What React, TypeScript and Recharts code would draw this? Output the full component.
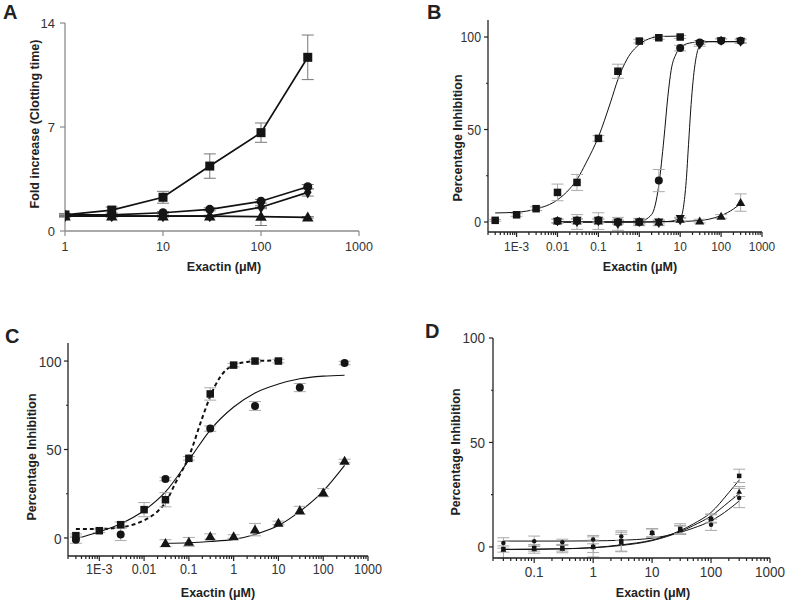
import React from "react";
import { ComposedChart, Scatter, Line, XAxis, YAxis, ErrorBar } from "recharts";

const W = 787;
const H = 601;
const FONT = "'Liberation Sans', Arial, Helvetica, sans-serif";

// ---------- Panel A: fold increase in clotting time
const aDose = [1, 3, 10, 30, 100, 300];
const aSquare = [1.08, 1.41, 2.27, 4.37, 6.62, 11.69];
const aSquareErr = [0.1, 0.2, 0.4, 0.82, 0.65, 1.5];
const aCircle = [1.08, 1.08, 1.23, 1.46, 2.0, 2.98];
const aCircleErr = [0.05, 0.05, 0.08, 0.1, 0.12, 0.15];
const aDiamond = [1.0, 1.0, 1.0, 1.0, 1.6, 2.6];
const aDiamondErr = [0.05, 0.05, 0.05, 0.05, 0.1, 0.25];
const aTriangle = [1.0, 1.0, 1.0, 1.0, 0.97, 0.92];
const aTriangleErr = [0.05, 0.05, 0.05, 0.05, 0.6, 0.05];

// ---------- Panel B
const bSqDose = [0.0003, 0.001, 0.003, 0.01, 0.03, 0.1, 0.3, 1, 3, 10];
const bSquare = [0.9, 3.9, 7.2, 16, 21.4, 45.2, 81.5, 97.8, 99.6, 100];
const bSquareErr = [0.5, 0.8, 1, 4.5, 4.3, 1.5, 3.8, 1, 0.8, 0.8];
const bDose = [0.01, 0.03, 0.1, 0.3, 1, 3, 10, 30, 100, 300];
const bCircle = [0.5, 0.8, 1, 0, 0, 22.4, 94, 97, 98, 98];
const bCircleErr = [1, 1, 1, 1, 1, 6, 1.5, 1, 1, 1];
const bDiamond = [0.5, 0, 0.5, -1, 0, -0.5, 1, 96, 98, 97.5];
const bDiamondErr = [1, 4, 4.5, 3.5, 2, 1.5, 1, 1, 1, 1];
const bInvTri = [0.5, 1, 1, 0, 0, 0, 2, 96.5, 98, 97.8];
const bTriangle = [0.5, 0.5, 0.5, 0, 0, 0, 1.5, 0.5, 3, 10.5];
const bTriangleErr = [1, 1, 1, 1, 1, 1, 1, 1, 1, 4.7];

const bSqFitX = [0.0003, 0.001, 0.003, 0.01, 0.02, 0.03, 0.05, 0.1, 0.2, 0.3, 0.5, 1, 2, 3, 10];
const bSqFit = [4.9, 5.3, 7, 12, 18, 23, 32, 46, 65, 77, 88, 96, 99.5, 100.3, 100.5];
const bCircFitX = [0.01, 0.3, 1, 2, 3, 4, 5, 6, 8, 10, 20, 50, 300];
const bCircFit = [0, 0, 0.3, 4, 20, 45, 68, 82, 91, 94.5, 97, 97.5, 97.5];
const bDiaFitX = [0.01, 1, 5, 10, 12, 14, 16, 18, 20, 25, 30, 50, 300];
const bDiaFit = [0, 0, 0.3, 2, 8, 22, 42, 60, 73, 90, 95, 97.5, 97.5];
const bTriFitX = [0.01, 1, 10, 30, 50, 100, 200, 300];
const bTriFit = [0, 0, 0.3, 0.8, 1.5, 3.5, 7, 10];

// ---------- Panel C
const cSqDose = [0.0003, 0.001, 0.003, 0.01, 0.03, 0.1, 0.3, 1, 3, 10];
const cSquare = [1.3, 4.1, 7.5, 16, 21.6, 45, 81.4, 97.7, 100, 100];
const cSquareErr = [1, 1, 1.5, 4, 4, 1, 3.5, 1, 1, 1];
const cCircDose = [0.0003, 0.003, 0.03, 0.3, 3, 30, 300];
const cCircle = [-1, 2, 33.3, 61.8, 74.6, 85, 98.9];
const cCircleErr = [2, 3.5, 1, 1.5, 2.5, 2.3, 1];
const cTriDose = [0.03, 0.1, 0.3, 1, 3, 10, 30, 100, 300];
const cTriangle = [-3, -2.2, 0.8, 0.8, 4.7, 8.5, 15.6, 25.6, 43.5];
const cTriangleErr = [2, 2.5, 1.5, 1, 3.5, 1, 2.3, 2.3, 1];

const cSqFitX = [0.0003, 0.001, 0.003, 0.01, 0.02, 0.03, 0.05, 0.1, 0.2, 0.3, 0.5, 1, 2, 3, 10];
const cSqFit = [5, 5.1, 6, 10, 15, 20, 31, 46, 68, 80, 91, 97.7, 99.5, 100, 100.3];
const cCircFitX = [0.0003, 0.001, 0.003, 0.01, 0.03, 0.1, 0.3, 1, 3, 10, 30, 100, 300];
const cCircFit = [-0.5, 3.5, 8, 15.5, 26, 44, 61, 74, 82, 87, 90, 91.5, 92];
const cTriFit = [-3, -2.7, -2, -0.8, 2, 7, 15, 26.5, 41];

// ---------- Panel D
const dDose = [0.03, 0.1, 0.3, 1, 3, 10, 30, 100, 300];
const dCircle = [1.9, 2.7, 2.2, 3.5, 5, 6.7, 8.3, 10.6, 23.4];
const dCircleErr = [2.5, 2.5, 1.5, 2, 2, 2, 2, 2.7, 4.6];
const dSquare = [-1, -0.5, -0.5, 0, 2.7, 6.7, 8.6, 13.4, 34];
const dSquareErr = [1.5, 1.5, 1.5, 4.8, 5, 2, 2.5, 2, 3.2];
const dTriangle = [-1.3, -1, -0.8, 0.3, 2, 6.7, 8, 13.8, 26.5];
const dTriangleErr = [4, 2, 2, 3, 4, 2, 2, 2, 2.4];

const dFitX = [0.03, 0.1, 0.3, 1, 3, 10, 30, 50, 100, 200, 300];
const dCircFit = [2.8, 2.8, 2.8, 2.9, 3.2, 4.2, 7, 9, 12.5, 18, 22];
const dSqFit = [-1.2, -1.1, -0.9, -0.3, 1, 3.3, 7.8, 11, 16.5, 26, 32];
const dTriFit = [-1.2, -1.1, -0.9, -0.4, 0.7, 3, 7.3, 10.2, 14.8, 21.5, 25.5];

// ---------- tick labels
const aXTicks = [1, 10, 100, 1000];
const aXLabels = ["1", "10", "100", "1000"];
const aYTicks = [0, 7, 14];
const aYLabels = ["0", "7", "14"];
const wideMajor = [0.001, 0.01, 0.1, 1, 10, 100, 1000];
const wideLabels = ["1E-3", "0.01", "0.1", "1", "10", "100", "1000"];
const dMajor = [0.1, 1, 10, 100, 1000];
const dLabels = ["0.1", "1", "10", "100", "1000"];
const pctTicks = [0, 25, 50, 75, 100];
const pctMajor = [0, 50, 100];
const pctLabels = ["0", "50", "100"];

type Row = { x: number; y: number; e: number };
const zip = (xs: number[], ys: number[], es?: number[]): Row[] =>
  xs.map((x, i) => ({ x, y: ys[i], e: es ? es[i] : 0 }));

function logTicks(lo: number, hi: number) {
  const out: number[] = [];
  for (let p = Math.floor(Math.log10(lo)); p <= Math.ceil(Math.log10(hi)); p++) {
    for (let k = 1; k < 10; k++) {
      const v = Number((k * Math.pow(10, p)).toPrecision(6));
      if (v >= lo * 0.999 && v <= hi * 1.001) out.push(v);
    }
  }
  return out;
}

const findIdx = (list: number[], v: number) =>
  list.findIndex((t) => Math.abs(t - v) <= Math.abs(t) * 1e-6 + 1e-9);

type Kind = "square" | "circle" | "tri" | "inv" | "diamond";
const marker = (kind: Kind, s: number) => (p: any) => {
  const { cx, cy } = p;
  if (cx == null || cy == null) return <g />;
  const h = s / 2;
  const f = "#151515";
  if (kind === "square") return <rect x={cx - h} y={cy - h} width={s} height={s} fill={f} />;
  if (kind === "circle") return <circle cx={cx} cy={cy} r={h} fill={f} />;
  if (kind === "tri")
    return (
      <polygon
        points={`${cx},${cy - h * 1.15} ${cx - h * 1.15},${cy + h * 0.85} ${cx + h * 1.15},${cy + h * 0.85}`}
        fill={f}
      />
    );
  if (kind === "inv")
    return (
      <polygon
        points={`${cx},${cy + h * 1.15} ${cx - h * 1.15},${cy - h * 0.85} ${cx + h * 1.15},${cy - h * 0.85}`}
        fill={f}
      />
    );
  return (
    <polygon
      points={`${cx},${cy - h * 1.35} ${cx + h * 0.85},${cy} ${cx},${cy + h * 1.35} ${cx - h * 0.85},${cy}`}
      fill={f}
    />
  );
};

type Cfg = {
  x0: number; x1: number; y0: number; y1: number;
  xDomain: [number, number]; yDomain: [number, number];
  xTicks: number[]; xMajor: number[]; xLabels: string[];
  yTicks: number[]; yMajor: number[]; yLabels: string[];
  axis: string; majorLen: number; minorLen: number; yLen: number; yMinorLen: number;
  xBase: number; yGap: number; xFs: number; yFs: number; xSx: number; ySx: number; text: string;
};

function XTick(props: any) {
  const { x, y, payload, cfg } = props;
  const c: Cfg = cfg;
  const i = findIdx(c.xMajor, payload.value);
  const len = i >= 0 ? c.majorLen : c.minorLen;
  return (
    <g>
      <line x1={x} x2={x} y1={y} y2={y + len} stroke={c.axis} strokeWidth={1.2} />
      {i >= 0 && (
        <text
          transform={`translate(${x},${y + c.xBase}) scale(${c.xSx},1)`}
          textAnchor="middle"
          fontSize={c.xFs}
          fontFamily={FONT}
          fill={c.text}
        >
          {c.xLabels[i]}
        </text>
      )}
    </g>
  );
}

function YTick(props: any) {
  const { x, y, payload, cfg } = props;
  const c: Cfg = cfg;
  const i = findIdx(c.yMajor, payload.value);
  const len = i >= 0 ? c.yLen : c.yMinorLen;
  return (
    <g>
      <line x1={x} x2={x - len} y1={y} y2={y} stroke={c.axis} strokeWidth={1.2} />
      {i >= 0 && (
        <text
          transform={`translate(${x - len - c.yGap},${y}) scale(${c.ySx},1)`}
          dy="0.36em"
          textAnchor="end"
          fontSize={c.yFs}
          fontFamily={FONT}
          fill={c.text}
        >
          {c.yLabels[i]}
        </text>
      )}
    </g>
  );
}

function Panel({ cfg, children }: { cfg: Cfg; children: React.ReactNode }) {
  return (
    <div style={{ position: "absolute", left: 0, top: 0 }}>
      <ComposedChart
        width={W}
        height={H}
        margin={{ top: cfg.y0, left: cfg.x0 - 60, right: W - cfg.x1, bottom: H - cfg.y1 - 30 }}
      >
        <XAxis
          type="number"
          dataKey="x"
          scale="log"
          domain={cfg.xDomain}
          allowDataOverflow
          ticks={cfg.xTicks}
          interval={0}
          height={30}
          tickSize={0}
          tickMargin={0}
          tickLine={false}
          axisLine={{ stroke: cfg.axis, strokeWidth: 1.3 }}
          tick={(p: any) => <XTick {...p} cfg={cfg} />}
        />
        <YAxis
          type="number"
          dataKey="y"
          domain={cfg.yDomain}
          allowDataOverflow
          ticks={cfg.yTicks}
          interval={0}
          width={60}
          tickSize={0}
          tickMargin={0}
          tickLine={false}
          axisLine={{ stroke: cfg.axis, strokeWidth: 1.3 }}
          tick={(p: any) => <YTick {...p} cfg={cfg} />}
        />
        {children}
      </ComposedChart>
    </div>
  );
}

const cfgA: Cfg = {
  x0: 65, x1: 359, y0: 23, y1: 231,
  xDomain: [1, 1000], yDomain: [0, 14],
  xTicks: aXTicks, xMajor: aXTicks, xLabels: aXLabels,
  yTicks: aYTicks, yMajor: aYTicks, yLabels: aYLabels,
  axis: "#8c8c8c", majorLen: 5, minorLen: 0, yLen: 5, yMinorLen: 0,
  xBase: 20, yGap: 5, xFs: 12.5, yFs: 13, xSx: 1, ySx: 1, text: "#333",
};
const cfgB: Cfg = {
  x0: 488, x1: 762, y0: 20, y1: 232,
  xDomain: [0.0002, 1000], yDomain: [-5.4, 109.2],
  xTicks: logTicks(0.0002, 1000), xMajor: wideMajor, xLabels: wideLabels,
  yTicks: pctTicks, yMajor: pctMajor, yLabels: pctLabels,
  axis: "#222", majorLen: 5, minorLen: 3, yLen: 4, yMinorLen: 2,
  xBase: 19, yGap: 3, xFs: 13.5, yFs: 15, xSx: 0.88, ySx: 0.82, text: "#333",
};
const cfgC: Cfg = {
  x0: 68, x1: 368, y0: 343, y1: 556,
  xDomain: [0.0002, 1000], yDomain: [-10.2, 110.2],
  xTicks: logTicks(0.0002, 1000), xMajor: wideMajor, xLabels: wideLabels,
  yTicks: pctTicks, yMajor: pctMajor, yLabels: pctLabels,
  axis: "#222", majorLen: 5, minorLen: 3, yLen: 4, yMinorLen: 2,
  xBase: 17.5, yGap: 2.5, xFs: 14, yFs: 15.5, xSx: 0.9, ySx: 0.88, text: "#333",
};
const cfgD: Cfg = {
  x0: 493, x1: 770, y0: 338, y1: 558,
  xDomain: [0.02, 1000], yDomain: [-5.3, 100],
  xTicks: logTicks(0.02, 1000), xMajor: dMajor, xLabels: dLabels,
  yTicks: pctTicks, yMajor: pctMajor, yLabels: pctLabels,
  axis: "#222", majorLen: 5, minorLen: 3, yLen: 4, yMinorLen: 2,
  xBase: 19, yGap: 4, xFs: 15, yFs: 15, xSx: 0.9, ySx: 0.9, text: "#333",
};

const errA = "#777";
const errL = "#aaa";

function fitLine(xs: number[], ys: number[], dash?: string, w = 1) {
  return (
    <Line
      data={zip(xs, ys)}
      dataKey="y"
      type="monotone"
      stroke="#111"
      strokeWidth={w}
      strokeDasharray={dash}
      dot={false}
      activeDot={false}
      isAnimationActive={false}
    />
  );
}

function pts(xs: number[], ys: number[], es: number[] | undefined, kind: Kind, s: number, err: string, line = false) {
  return (
    <Scatter
      data={zip(xs, ys, es)}
      shape={marker(kind, s)}
      line={line ? { stroke: "#111", strokeWidth: 1.7 } : false}
      lineType="joint"
      isAnimationActive={false}
    >
      {es && <ErrorBar dataKey="e" direction="y" width={6} stroke={err} strokeWidth={1} />}
    </Scatter>
  );
}

const titleStyle = { fontFamily: FONT, fontWeight: 700, fill: "#222" } as const;

export default function App() {
  return (
    <div style={{ position: "absolute", left: 0, top: 0, width: W, height: H, background: "#fff" }}>
      <Panel cfg={cfgA}>
        {pts(aDose, aTriangle, aTriangleErr, "tri", 10, errA, true)}
        {pts(aDose, aDiamond, aDiamondErr, "diamond", 9, errA, true)}
        {pts(aDose, aCircle, aCircleErr, "circle", 9, errA, true)}
        {pts(aDose, aSquare, aSquareErr, "square", 9, errA, true)}
      </Panel>
      <Panel cfg={cfgB}>
        {fitLine(bSqFitX, bSqFit)}
        {fitLine(bCircFitX, bCircFit)}
        {fitLine(bDiaFitX, bDiaFit)}
        {fitLine(bTriFitX, bTriFit)}
        {pts(bSqDose, bSquare, bSquareErr, "square", 7.5, errL)}
        {pts(bDose, bTriangle, bTriangleErr, "tri", 8, errL)}
        {pts(bDose, bCircle, bCircleErr, "circle", 8, errL)}
        {pts(bDose, bInvTri, undefined, "inv", 8, errL)}
        {pts(bDose, bDiamond, bDiamondErr, "diamond", 7.5, errL)}
      </Panel>
      <Panel cfg={cfgC}>
        {fitLine(cSqFitX, cSqFit, "4 3", 2)}
        {fitLine(cCircFitX, cCircFit, undefined, 1.1)}
        {fitLine(cTriDose, cTriFit, undefined, 1.1)}
        {pts(cSqDose, cSquare, cSquareErr, "square", 7.5, errL)}
        {pts(cCircDose, cCircle, cCircleErr, "circle", 8, errL)}
        {pts(cTriDose, cTriangle, cTriangleErr, "tri", 9, errL)}
      </Panel>
      <Panel cfg={cfgD}>
        {fitLine(dFitX, dCircFit)}
        {fitLine(dFitX, dSqFit)}
        {fitLine(dFitX, dTriFit)}
        {pts(dDose, dCircle, dCircleErr, "circle", 4.5, errL)}
        {pts(dDose, dSquare, dSquareErr, "square", 4.5, errL)}
        {pts(dDose, dTriangle, dTriangleErr, "tri", 5, errL)}
      </Panel>
      <svg width={W} height={H} style={{ position: "absolute", left: 0, top: 0, pointerEvents: "none" }}>
        <text x={3} y={19} fontSize={20} {...titleStyle}>A</text>
        <text x={427} y={19} fontSize={20} {...titleStyle}>B</text>
        <text x={5} y={343} fontSize={20} {...titleStyle}>C</text>
        <text x={425} y={338} fontSize={20} {...titleStyle}>D</text>

        <text x={224} y={271} textAnchor="middle" fontSize={12.5} {...titleStyle}>Exactin (μM)</text>
        <text x={640} y={271} textAnchor="middle" fontSize={12.5} {...titleStyle}>Exactin (μM)</text>
        <text x={218} y={597} textAnchor="middle" fontSize={12.5} {...titleStyle}>Exactin (μM)</text>
        <text x={653} y={597} textAnchor="middle" fontSize={12.5} {...titleStyle}>Exactin (μM)</text>

        <text transform="translate(38.5,124) rotate(-90)" textAnchor="middle" fontSize={12.5} {...titleStyle}>
          Fold increase (Clotting time)
        </text>
        <text transform="translate(461.5,138) rotate(-90)" textAnchor="middle" fontSize={12.5} {...titleStyle}>
          Percentage Inhibition
        </text>
        <text transform="translate(35.5,457) rotate(-90)" textAnchor="middle" fontSize={12.5} {...titleStyle}>
          Percentage Inhibition
        </text>
        <text transform="translate(460,452) rotate(-90)" textAnchor="middle" fontSize={12.5} {...titleStyle}>
          Percentage Inhibition
        </text>
      </svg>
    </div>
  );
}
